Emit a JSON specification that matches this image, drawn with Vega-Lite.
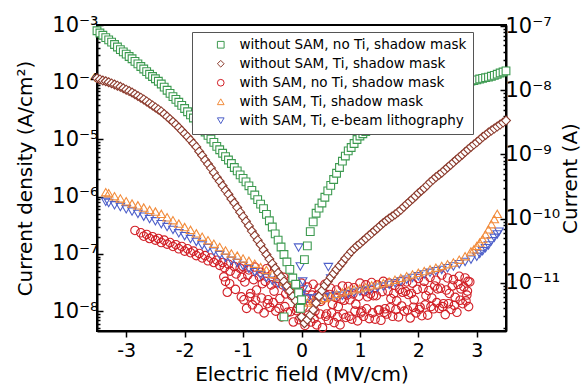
{
  "$schema": "https://vega.github.io/schema/vega-lite/v6.json",
  "width": 409,
  "height": 306,
  "autosize": "none",
  "padding": {"left": 97, "top": 25, "right": 78, "bottom": 59},
  "background": "white",
  "config": {
    "font": "DejaVu Sans",
    "view": {"stroke": "black", "strokeWidth": 2},
    "axis": {"domainColor": "black", "domainWidth": 2, "tickColor": "black", "tickWidth": 1.5, "labelColor": "black", "titleColor": "black", "titleFontWeight": "normal", "grid": false, "labelOverlap": false, "labelFlush": false, "labelBound": false},
    "legend": {"fillColor": "white", "strokeColor": "#555555", "strokeWidth": 1, "padding": 6, "symbolOffset": 16, "labelFontSize": 13.5, "labelLimit": 600, "labelColor": "black", "rowPadding": 4, "symbolSize": 45, "symbolStrokeWidth": 1, "labelOffset": 12, "cornerRadius": 0}
  },
  "layer": [
    {
      "layer": [
        {
          "data": {"values": [
            {"E":-2.85,"J":2.57e-7},{"E":-2.75,"J":2.34e-7},{"E":-2.7,"J":2.04e-7},{"E":-2.65,"J":2.19e-7},{"E":-2.6,"J":1.86e-7},
            {"E":-2.55,"J":2.00e-7},{"E":-2.5,"J":1.74e-7},{"E":-2.45,"J":1.86e-7},{"E":-2.4,"J":1.58e-7},{"E":-2.35,"J":1.74e-7},{"E":-2.3,"J":1.48e-7},
            {"E":-2.25,"J":1.58e-7},{"E":-2.2,"J":1.35e-7},{"E":-2.15,"J":1.45e-7},{"E":-2.1,"J":1.23e-7},{"E":-2.05,"J":1.35e-7},{"E":-2.0,"J":1.12e-7},
            {"E":-1.95,"J":1.23e-7},{"E":-1.9,"J":1.05e-7},{"E":-1.85,"J":1.12e-7},{"E":-1.8,"J":9.33e-8},{"E":-1.75,"J":1.02e-7},{"E":-1.7,"J":8.51e-8},
            {"E":-1.65,"J":9.33e-8},{"E":-1.6,"J":7.59e-8},{"E":-1.55,"J":8.51e-8},{"E":-1.5,"J":7.08e-8},{"E":-1.45,"J":7.76e-8},{"E":-1.4,"J":6.31e-8},
            {"E":-1.35,"J":7.08e-8},{"E":-1.32,"J":5.75e-8},{"E":-1.33,"J":3.98e-8},{"E":-1.25,"J":6.61e-8},{"E":-1.22,"J":5.01e-8},{"E":-1.23,"J":3.02e-8},
            {"E":-1.15,"J":6.03e-8},{"E":-1.12,"J":4.47e-8},{"E":-1.13,"J":2.40e-8},{"E":-1.05,"J":5.62e-8},{"E":-1.02,"J":3.89e-8},{"E":-1.03,"J":1.78e-8},
            {"E":-1.3,"J":3.31e-8},{"E":-1.27,"J":2.14e-8},
            {"E":-1.0,"J":6.03e-8},{"E":-0.97,"J":3.24e-8},{"E":-0.94,"J":1.12e-8},{"E":-0.92,"J":4.27e-8},{"E":-0.985,"J":1.58e-8},
            {"E":-0.9,"J":5.25e-8},{"E":-0.87,"J":2.04e-8},{"E":-0.84,"J":1.29e-8},{"E":-0.82,"J":3.55e-8},{"E":-0.885,"J":1.78e-8},
            {"E":-0.8,"J":5.89e-8},{"E":-0.77,"J":2.34e-8},{"E":-0.74,"J":1.10e-8},{"E":-0.72,"J":3.98e-8},{"E":-0.785,"J":1.55e-8},
            {"E":-0.7,"J":4.79e-8},{"E":-0.67,"J":3.02e-8},{"E":-0.64,"J":9.33e-9},{"E":-0.62,"J":3.31e-8},{"E":-0.685,"J":1.70e-8},
            {"E":-0.6,"J":5.50e-8},{"E":-0.57,"J":1.58e-8},{"E":-0.54,"J":1.17e-8},{"E":-0.52,"J":2.88e-8},{"E":-0.585,"J":1.35e-8},
            {"E":-0.5,"J":4.47e-8},{"E":-0.47,"J":2.24e-8},{"E":-0.44,"J":1.00e-8},{"E":-0.42,"J":3.16e-8},{"E":-0.485,"J":1.41e-8},
            {"E":-0.4,"J":3.72e-8},{"E":-0.37,"J":1.66e-8},{"E":-0.34,"J":7.94e-9},{"E":-0.32,"J":2.88e-8},{"E":-0.385,"J":1.12e-8},
            {"E":-0.3,"J":3.89e-8},{"E":-0.27,"J":2.00e-8},{"E":-0.24,"J":9.55e-9},{"E":-0.22,"J":2.34e-8},{"E":-0.285,"J":1.20e-8},
            {"E":-0.2,"J":3.39e-8},{"E":-0.17,"J":1.86e-8},{"E":-0.14,"J":6.46e-9},{"E":-0.12,"J":2.51e-8},{"E":-0.185,"J":9.77e-9},
            {"E":-0.1,"J":2.88e-8},{"E":-0.07,"J":1.12e-8},{"E":-0.04,"J":7.08e-9},{"E":-0.02,"J":2.04e-8},{"E":-0.085,"J":1.02e-8},
            {"E":0.0,"J":3.09e-8},{"E":0.03,"J":1.20e-8},{"E":0.06,"J":5.62e-9},{"E":0.08,"J":1.70e-8},{"E":0.015,"J":7.59e-9},
            {"E":0.1,"J":2.63e-8},{"E":0.13,"J":1.66e-8},{"E":0.16,"J":6.46e-9},{"E":0.18,"J":1.91e-8},{"E":0.115,"J":8.51e-9},
            {"E":0.2,"J":2.95e-8},{"E":0.23,"J":1.00e-8},{"E":0.26,"J":5.75e-9},{"E":0.28,"J":1.91e-8},{"E":0.215,"J":7.41e-9},
            {"E":0.3,"J":2.51e-8},{"E":0.33,"J":1.48e-8},{"E":0.36,"J":5.13e-9},{"E":0.38,"J":1.70e-8},{"E":0.315,"J":8.91e-9},
            {"E":0.4,"J":2.95e-8},{"E":0.43,"J":8.91e-9},{"E":0.46,"J":6.92e-9},{"E":0.48,"J":1.95e-8},{"E":0.415,"J":8.13e-9},
            {"E":0.5,"J":2.51e-8},{"E":0.53,"J":1.32e-8},{"E":0.56,"J":6.31e-9},{"E":0.58,"J":1.74e-8},{"E":0.515,"J":9.33e-9},
            {"E":0.6,"J":2.34e-8},{"E":0.63,"J":1.20e-8},{"E":0.66,"J":5.75e-9},{"E":0.68,"J":1.62e-8},{"E":0.615,"J":7.94e-9},
            {"E":0.7,"J":2.75e-8},{"E":0.73,"J":1.55e-8},{"E":0.76,"J":7.76e-9},{"E":0.78,"J":1.91e-8},{"E":0.715,"J":8.91e-9},
            {"E":0.8,"J":2.69e-8},{"E":0.83,"J":1.58e-8},{"E":0.86,"J":7.24e-9},{"E":0.88,"J":2.00e-8},{"E":0.815,"J":8.13e-9},
            {"E":0.9,"J":2.57e-8},{"E":0.93,"J":1.32e-8},{"E":0.96,"J":6.76e-9},{"E":0.98,"J":1.82e-8},{"E":0.915,"J":1.00e-8},
            {"E":1.0,"J":3.09e-8},{"E":1.03,"J":1.00e-8},{"E":1.06,"J":8.13e-9},{"E":1.08,"J":2.19e-8},{"E":1.015,"J":9.33e-9},
            {"E":1.1,"J":2.88e-8},{"E":1.13,"J":1.78e-8},{"E":1.16,"J":7.41e-9},{"E":1.18,"J":2.00e-8},{"E":1.115,"J":1.10e-8},
            {"E":1.2,"J":3.16e-8},{"E":1.23,"J":1.86e-8},{"E":1.26,"J":7.24e-9},{"E":1.28,"J":1.86e-8},{"E":1.215,"J":9.33e-9},
            {"E":1.3,"J":2.88e-8},{"E":1.33,"J":1.05e-8},{"E":1.36,"J":6.92e-9},{"E":1.38,"J":2.19e-8},{"E":1.315,"J":1.05e-8},
            {"E":1.4,"J":3.31e-8},{"E":1.43,"J":1.10e-8},{"E":1.46,"J":8.91e-9},{"E":1.48,"J":2.24e-8},{"E":1.415,"J":9.55e-9},
            {"E":1.5,"J":3.09e-8},{"E":1.53,"J":1.66e-8},{"E":1.56,"J":8.13e-9},{"E":1.58,"J":2.04e-8},{"E":1.515,"J":1.15e-8},
            {"E":1.6,"J":2.82e-8},{"E":1.63,"J":1.51e-8},{"E":1.66,"J":7.94e-9},{"E":1.68,"J":2.40e-8},{"E":1.615,"J":1.06e-8},
            {"E":1.7,"J":3.31e-8},{"E":1.73,"J":2.14e-8},{"E":1.76,"J":1.00e-8},{"E":1.78,"J":2.21e-8},{"E":1.715,"J":1.23e-8},
            {"E":1.8,"J":3.24e-8},{"E":1.83,"J":1.95e-8},{"E":1.86,"J":7.59e-9},{"E":1.88,"J":2.04e-8},{"E":1.815,"J":1.05e-8},
            {"E":1.9,"J":3.09e-8},{"E":1.93,"J":1.58e-8},{"E":1.96,"J":9.33e-9},{"E":1.98,"J":2.40e-8},{"E":1.915,"J":1.17e-8},
            {"E":2.0,"J":3.72e-8},{"E":2.03,"J":1.17e-8},{"E":2.06,"J":8.32e-9},{"E":2.08,"J":2.51e-8},{"E":2.015,"J":1.07e-8},
            {"E":2.1,"J":3.31e-8},{"E":2.13,"J":1.86e-8},{"E":2.16,"J":8.51e-9},{"E":2.18,"J":2.29e-8},{"E":2.115,"J":1.29e-8},
            {"E":2.2,"J":3.89e-8},{"E":2.23,"J":1.70e-8},{"E":2.26,"J":1.10e-8},{"E":2.28,"J":2.75e-8},{"E":2.215,"J":1.20e-8},
            {"E":2.3,"J":3.47e-8},{"E":2.33,"J":2.45e-8},{"E":2.36,"J":1.12e-8},{"E":2.38,"J":2.51e-8},{"E":2.315,"J":1.41e-8},
            {"E":2.4,"J":4.27e-8},{"E":2.43,"J":1.35e-8},{"E":2.46,"J":8.71e-9},{"E":2.48,"J":2.34e-8},{"E":2.415,"J":1.20e-8},
            {"E":2.5,"J":3.80e-8},{"E":2.53,"J":2.04e-8},{"E":2.56,"J":1.07e-8},{"E":2.58,"J":2.75e-8},{"E":2.515,"J":1.35e-8},
            {"E":2.6,"J":3.55e-8},{"E":2.63,"J":1.74e-8},{"E":2.66,"J":9.55e-9},{"E":2.68,"J":2.95e-8},{"E":2.615,"J":1.26e-8},
            {"E":2.7,"J":4.07e-8},{"E":2.73,"J":2.45e-8},{"E":2.76,"J":1.35e-8},{"E":2.78,"J":2.66e-8},{"E":2.715,"J":1.55e-8},
            {"E":2.8,"J":3.80e-8},{"E":2.83,"J":1.91e-8},{"E":2.86,"J":1.20e-8},{"E":2.88,"J":3.24e-8},{"E":2.815,"J":1.51e-8},
            {"E":2.85,"J":3.31e-8},{"E":2.84,"J":2.24e-8}
          ]},
          "mark": {"type": "point", "filled": false, "size": 72, "strokeWidth": 1.1, "opacity": 1},
          "encoding": {
            "x": {"field": "E", "type": "quantitative", "scale": {"domain": [-3.5, 3.5], "nice": false, "zero": false},
              "axis": {"title": "Electric field (MV/cm)", "values": [-3, -2.5, -2, -1.5, -1, -0.5, 0, 0.5, 1, 1.5, 2, 2.5, 3],
                "labelExpr": "datum.value % 1 == 0 ? '' + datum.value : ''",
                "tickSize": {"condition": {"test": "datum.value % 1 == 0", "value": 6}, "value": 3},
                "labelFontSize": 19, "titleFontSize": 20, "labelPadding": 4, "titlePadding": 4}},
            "y": {"field": "J", "type": "quantitative", "scale": {"type": "log", "domain": [4.5e-9, 1e-3], "nice": false},
              "axis": {"title": "Current density (A/cm²)",
                "values": [5e-9,6e-9,7e-9,8e-9,9e-9,1e-8,2e-8,3e-8,4e-8,5e-8,6e-8,7e-8,8e-8,9e-8,1e-7,2e-7,3e-7,4e-7,5e-7,6e-7,7e-7,8e-7,9e-7,1e-6,2e-6,3e-6,4e-6,5e-6,6e-6,7e-6,8e-6,9e-6,1e-5,2e-5,3e-5,4e-5,5e-5,6e-5,7e-5,8e-5,9e-5,1e-4,2e-4,3e-4,4e-4,5e-4,6e-4,7e-4,8e-4,9e-4,1e-3],
                "labelExpr": "abs(log(datum.value)/LN10 - round(log(datum.value)/LN10)) > 0.01 ? '' : ['10⁻³','10⁻⁴','10⁻⁵','10⁻⁶','10⁻⁷','10⁻⁸','10⁻⁹','10⁻¹⁰','10⁻¹¹'][-3 - round(log(datum.value)/LN10)]",
                "tickSize": {"condition": {"test": "abs(log(datum.value)/LN10 - round(log(datum.value)/LN10)) < 0.01", "value": -6}, "value": -3},
                "labelFontSize": 21, "titleFontSize": 20, "labelPadding": 5, "titlePadding": 16}},
            "color": {"datum": "with SAM, no Ti, shadow mask", "type": "nominal",
              "scale": {"domain": ["without SAM, no Ti, shadow mask", "without SAM, Ti, shadow mask", "with SAM, no Ti, shadow mask", "with SAM, Ti, shadow mask", "with SAM, Ti, e-beam lithography"], "range": ["#3d9a50", "#8b3a2c", "#d21f26", "#f28c3c", "#4d5fc9"]},
              "legend": {"title": null, "orient": "none", "legendX": 95, "legendY": 7}},
            "shape": {"datum": "with SAM, no Ti, shadow mask", "type": "nominal",
              "scale": {"domain": ["without SAM, no Ti, shadow mask", "without SAM, Ti, shadow mask", "with SAM, no Ti, shadow mask", "with SAM, Ti, shadow mask", "with SAM, Ti, e-beam lithography"], "range": ["square", "diamond", "circle", "triangle-up", "triangle-down"]},
              "legend": {"title": null, "orient": "none", "legendX": 95, "legendY": 7}}
          }
        },
        {
          "data": {"values": [
            {"E":-3.35,"J":8.13e-7},{"E":-3.3,"J":7.76e-7},{"E":-3.2,"J":7.08e-7},{"E":-3.1,"J":6.61e-7},{"E":-3.0,"J":6.03e-7},
            {"E":-2.9,"J":5.50e-7},{"E":-2.8,"J":5.01e-7},{"E":-2.7,"J":4.47e-7},{"E":-2.6,"J":4.07e-7},{"E":-2.5,"J":3.72e-7},
            {"E":-2.4,"J":3.31e-7},{"E":-2.3,"J":2.95e-7},{"E":-2.2,"J":2.63e-7},{"E":-2.1,"J":2.29e-7},{"E":-2.0,"J":2.04e-7},
            {"E":-1.9,"J":1.82e-7},{"E":-1.8,"J":1.62e-7},{"E":-1.7,"J":1.41e-7},{"E":-1.6,"J":1.26e-7},{"E":-1.5,"J":1.10e-7},
            {"E":-1.4,"J":9.55e-8},{"E":-1.3,"J":8.51e-8},{"E":-1.2,"J":7.59e-8},{"E":-1.1,"J":6.92e-8},{"E":-1.0,"J":6.17e-8},
            {"E":-0.9,"J":5.50e-8},{"E":-0.8,"J":4.79e-8},{"E":-0.7,"J":4.27e-8},{"E":-0.6,"J":3.80e-8},{"E":-0.5,"J":3.39e-8},
            {"E":-0.4,"J":3.02e-8},{"E":-0.3,"J":2.69e-8},{"E":-0.2,"J":2.40e-8},{"E":-0.1,"J":2.14e-8},{"E":0.0,"J":1.91e-8},
            {"E":0.1,"J":1.66e-8},{"E":0.2,"J":1.66e-8},{"E":0.3,"J":1.74e-8},{"E":0.4,"J":1.74e-8},{"E":0.5,"J":1.78e-8},
            {"E":0.6,"J":1.86e-8},{"E":0.7,"J":1.86e-8},{"E":0.8,"J":2.00e-8},{"E":0.9,"J":2.09e-8},{"E":1.0,"J":2.19e-8},
            {"E":1.1,"J":2.29e-8},{"E":1.2,"J":2.45e-8},{"E":1.3,"J":2.57e-8},{"E":1.4,"J":2.69e-8},{"E":1.5,"J":2.88e-8},
            {"E":1.6,"J":3.09e-8},{"E":1.7,"J":3.31e-8},{"E":1.8,"J":3.55e-8},{"E":1.9,"J":3.80e-8},{"E":2.0,"J":4.07e-8},
            {"E":2.1,"J":4.37e-8},{"E":2.2,"J":4.68e-8},{"E":2.3,"J":5.01e-8},{"E":2.4,"J":5.25e-8},{"E":2.5,"J":5.62e-8},
            {"E":2.6,"J":6.03e-8},{"E":2.7,"J":6.61e-8},{"E":2.8,"J":7.24e-8},{"E":2.9,"J":7.94e-8},{"E":3.0,"J":8.91e-8},
            {"E":3.05,"J":1.00e-7},{"E":3.1,"J":1.12e-7},{"E":3.15,"J":1.26e-7},{"E":3.2,"J":1.41e-7},{"E":3.25,"J":1.66e-7},
            {"E":3.3,"J":1.91e-7},{"E":3.35,"J":2.19e-7},{"E":3.38,"J":2.45e-7},
            {"E":-0.05,"J":1.29e-7},{"E":-0.02,"J":6.03e-8},{"E":0.02,"J":3.31e-8},{"E":0.03,"J":2.40e-8},{"E":0.46,"J":5.89e-8},{"E":0.5,"J":3.72e-8}
          ]},
          "mark": {"type": "point", "filled": false, "size": 72, "strokeWidth": 1.1, "opacity": 1},
          "encoding": {
            "x": {"field": "E", "type": "quantitative", "scale": {"domain": [-3.5, 3.5], "nice": false, "zero": false}},
            "y": {"field": "J", "type": "quantitative", "scale": {"type": "log", "domain": [4.5e-9, 1e-3], "nice": false}},
            "color": {"datum": "with SAM, Ti, e-beam lithography", "type": "nominal"},
            "shape": {"datum": "with SAM, Ti, e-beam lithography", "type": "nominal"}
          }
        },
        {
          "data": {"values": [
            {"E":-3.35,"J":1.20e-6},{"E":-3.3,"J":1.15e-6},{"E":-3.2,"J":1.02e-6},{"E":-3.1,"J":9.33e-7},{"E":-3.0,"J":8.32e-7},
            {"E":-2.9,"J":7.59e-7},{"E":-2.8,"J":7.08e-7},{"E":-2.7,"J":6.46e-7},{"E":-2.6,"J":5.89e-7},{"E":-2.5,"J":5.50e-7},
            {"E":-2.4,"J":5.01e-7},{"E":-2.3,"J":4.37e-7},{"E":-2.2,"J":3.89e-7},{"E":-2.1,"J":3.39e-7},{"E":-2.0,"J":2.95e-7},
            {"E":-1.9,"J":2.63e-7},{"E":-1.8,"J":2.29e-7},{"E":-1.7,"J":2.00e-7},{"E":-1.6,"J":1.74e-7},{"E":-1.5,"J":1.51e-7},
            {"E":-1.4,"J":1.32e-7},{"E":-1.3,"J":1.15e-7},{"E":-1.2,"J":1.02e-7},{"E":-1.1,"J":9.33e-8},{"E":-1.0,"J":8.32e-8},
            {"E":-0.9,"J":7.59e-8},{"E":-0.8,"J":6.76e-8},{"E":-0.7,"J":5.89e-8},{"E":-0.6,"J":5.25e-8},{"E":-0.5,"J":4.47e-8},
            {"E":-0.4,"J":3.89e-8},{"E":-0.3,"J":3.31e-8},{"E":-0.2,"J":2.75e-8},{"E":-0.1,"J":2.24e-8},{"E":0.0,"J":1.48e-8},
            {"E":0.1,"J":1.41e-8},{"E":0.2,"J":1.51e-8},{"E":0.3,"J":1.58e-8},{"E":0.4,"J":1.70e-8},{"E":0.5,"J":1.82e-8},
            {"E":0.6,"J":2.00e-8},{"E":0.7,"J":2.14e-8},{"E":0.8,"J":2.29e-8},{"E":0.9,"J":2.40e-8},{"E":1.0,"J":2.51e-8},
            {"E":1.1,"J":2.63e-8},{"E":1.2,"J":2.82e-8},{"E":1.3,"J":2.95e-8},{"E":1.4,"J":3.09e-8},{"E":1.5,"J":3.31e-8},
            {"E":1.6,"J":3.55e-8},{"E":1.7,"J":3.80e-8},{"E":1.8,"J":4.07e-8},{"E":1.9,"J":4.37e-8},{"E":2.0,"J":4.68e-8},
            {"E":2.1,"J":5.01e-8},{"E":2.2,"J":5.37e-8},{"E":2.3,"J":5.75e-8},{"E":2.4,"J":6.17e-8},{"E":2.5,"J":6.61e-8},
            {"E":2.6,"J":7.08e-8},{"E":2.7,"J":7.94e-8},{"E":2.8,"J":9.12e-8},{"E":2.9,"J":1.10e-7},{"E":2.95,"J":1.20e-7},
            {"E":3.0,"J":1.38e-7},{"E":3.05,"J":1.58e-7},{"E":3.1,"J":1.82e-7},{"E":3.15,"J":2.19e-7},{"E":3.2,"J":2.69e-7},
            {"E":3.25,"J":3.31e-7},{"E":3.3,"J":4.07e-7},{"E":3.35,"J":5.01e-7}
          ]},
          "mark": {"type": "point", "filled": false, "size": 72, "strokeWidth": 1.1, "opacity": 1},
          "encoding": {
            "x": {"field": "E", "type": "quantitative", "scale": {"domain": [-3.5, 3.5], "nice": false, "zero": false}},
            "y": {"field": "J", "type": "quantitative", "scale": {"type": "log", "domain": [4.5e-9, 1e-3], "nice": false}},
            "color": {"datum": "with SAM, Ti, shadow mask", "type": "nominal"},
            "shape": {"datum": "with SAM, Ti, shadow mask", "type": "nominal"}
          }
        },
        {
          "data": {"values": [
            {"E":-3.5,"J":1.17e-4},{"E":-3.45,"J":1.12e-4},{"E":-3.4,"J":1.07e-4},{"E":-3.35,"J":1.04e-4},{"E":-3.3,"J":1.00e-4},{"E":-3.25,"J":9.55e-5},
            {"E":-3.2,"J":9.12e-5},{"E":-3.15,"J":8.71e-5},{"E":-3.1,"J":8.32e-5},{"E":-3.05,"J":7.85e-5},{"E":-3.0,"J":7.41e-5},{"E":-2.95,"J":7.00e-5},
            {"E":-2.9,"J":6.61e-5},{"E":-2.85,"J":6.17e-5},{"E":-2.8,"J":5.75e-5},{"E":-2.75,"J":5.37e-5},{"E":-2.7,"J":5.01e-5},{"E":-2.65,"J":4.62e-5},
            {"E":-2.6,"J":4.27e-5},{"E":-2.55,"J":3.94e-5},{"E":-2.5,"J":3.63e-5},{"E":-2.45,"J":3.35e-5},{"E":-2.4,"J":3.09e-5},{"E":-2.35,"J":2.79e-5},
            {"E":-2.3,"J":2.51e-5},{"E":-2.25,"J":2.26e-5},{"E":-2.2,"J":2.04e-5},{"E":-2.15,"J":1.82e-5},{"E":-2.1,"J":1.62e-5},{"E":-2.05,"J":1.43e-5},
            {"E":-2.0,"J":1.26e-5},{"E":-1.95,"J":1.12e-5},{"E":-1.9,"J":9.77e-6},{"E":-1.85,"J":8.51e-6},{"E":-1.8,"J":7.41e-6},
            {"E":-1.75,"J":6.17e-6},{"E":-1.7,"J":5.25e-6},{"E":-1.65,"J":4.37e-6},{"E":-1.6,"J":3.72e-6},{"E":-1.55,"J":3.16e-6},
            {"E":-1.5,"J":2.63e-6},{"E":-1.45,"J":2.19e-6},{"E":-1.4,"J":1.86e-6},{"E":-1.35,"J":1.55e-6},{"E":-1.3,"J":1.29e-6},
            {"E":-1.25,"J":1.10e-6},{"E":-1.2,"J":9.12e-7},{"E":-1.15,"J":7.76e-7},{"E":-1.1,"J":6.46e-7},{"E":-1.05,"J":5.37e-7},
            {"E":-1.0,"J":4.47e-7},{"E":-0.95,"J":3.72e-7},{"E":-0.9,"J":3.09e-7},{"E":-0.85,"J":2.51e-7},{"E":-0.8,"J":2.09e-7},
            {"E":-0.75,"J":1.74e-7},{"E":-0.7,"J":1.45e-7},{"E":-0.65,"J":1.17e-7},{"E":-0.6,"J":9.77e-8},{"E":-0.55,"J":8.13e-8},
            {"E":-0.5,"J":6.76e-8},{"E":-0.45,"J":5.62e-8},{"E":-0.4,"J":4.68e-8},{"E":-0.35,"J":3.98e-8},{"E":-0.3,"J":3.31e-8},
            {"E":-0.25,"J":2.75e-8},{"E":-0.2,"J":2.24e-8},{"E":-0.15,"J":1.82e-8},{"E":-0.1,"J":1.51e-8},{"E":-0.05,"J":1.23e-8},
            {"E":0.0,"J":7.94e-9},{"E":0.05,"J":6.17e-9},{"E":0.1,"J":7.08e-9},{"E":0.15,"J":8.51e-9},{"E":0.2,"J":1.05e-8},
            {"E":0.25,"J":1.38e-8},{"E":0.3,"J":1.82e-8},{"E":0.35,"J":2.29e-8},{"E":0.4,"J":2.82e-8},{"E":0.45,"J":3.31e-8},
            {"E":0.5,"J":3.89e-8},{"E":0.55,"J":4.57e-8},{"E":0.6,"J":5.37e-8},{"E":0.65,"J":6.17e-8},{"E":0.7,"J":7.08e-8},
            {"E":0.75,"J":8.32e-8},{"E":0.8,"J":9.55e-8},{"E":0.85,"J":1.10e-7},{"E":0.9,"J":1.23e-7},{"E":0.95,"J":1.38e-7},
            {"E":1.0,"J":1.51e-7},{"E":1.05,"J":1.68e-7},{"E":1.1,"J":1.86e-7},{"E":1.15,"J":2.07e-7},{"E":1.2,"J":2.29e-7},{"E":1.25,"J":2.54e-7},
            {"E":1.3,"J":2.82e-7},{"E":1.35,"J":3.13e-7},{"E":1.4,"J":3.47e-7},{"E":1.45,"J":3.80e-7},{"E":1.5,"J":4.17e-7},{"E":1.55,"J":4.52e-7},
            {"E":1.6,"J":4.90e-7},{"E":1.65,"J":5.37e-7},{"E":1.7,"J":5.89e-7},{"E":1.75,"J":6.61e-7},{"E":1.8,"J":7.41e-7},{"E":1.85,"J":8.22e-7},
            {"E":1.9,"J":9.12e-7},{"E":1.95,"J":1.02e-6},{"E":2.0,"J":1.15e-6},{"E":2.05,"J":1.27e-6},{"E":2.1,"J":1.41e-6},{"E":2.15,"J":1.58e-6},
            {"E":2.2,"J":1.78e-6},{"E":2.25,"J":1.97e-6},{"E":2.3,"J":2.19e-6},{"E":2.35,"J":2.40e-6},{"E":2.4,"J":2.63e-6},{"E":2.45,"J":2.92e-6},
            {"E":2.5,"J":3.24e-6},{"E":2.55,"J":3.59e-6},{"E":2.6,"J":3.98e-6},{"E":2.65,"J":4.42e-6},{"E":2.7,"J":4.90e-6},{"E":2.75,"J":5.43e-6},
            {"E":2.8,"J":6.03e-6},{"E":2.85,"J":6.68e-6},{"E":2.9,"J":7.41e-6},{"E":2.95,"J":8.13e-6},{"E":3.0,"J":8.91e-6},{"E":3.05,"J":9.89e-6},
            {"E":3.1,"J":1.10e-5},{"E":3.15,"J":1.20e-5},{"E":3.2,"J":1.32e-5},{"E":3.25,"J":1.43e-5},{"E":3.3,"J":1.55e-5},{"E":3.35,"J":1.68e-5},
            {"E":3.4,"J":1.82e-5},{"E":3.45,"J":1.97e-5},{"E":3.5,"J":2.14e-5}
          ]},
          "mark": {"type": "point", "filled": false, "fill": "white", "fillOpacity": 1, "size": 80, "strokeWidth": 1.1, "opacity": 1},
          "encoding": {
            "x": {"field": "E", "type": "quantitative", "scale": {"domain": [-3.5, 3.5], "nice": false, "zero": false}},
            "y": {"field": "J", "type": "quantitative", "scale": {"type": "log", "domain": [4.5e-9, 1e-3], "nice": false}},
            "color": {"datum": "without SAM, Ti, shadow mask", "type": "nominal"},
            "shape": {"datum": "without SAM, Ti, shadow mask", "type": "nominal"}
          }
        },
        {
          "data": {"values": [
            {"E":-3.5,"J":7.94e-4},{"E":-3.45,"J":7.24e-4},{"E":-3.4,"J":6.61e-4},{"E":-3.35,"J":6.03e-4},{"E":-3.3,"J":5.50e-4},{"E":-3.25,"J":5.01e-4},
            {"E":-3.2,"J":4.57e-4},{"E":-3.15,"J":4.12e-4},{"E":-3.1,"J":3.72e-4},{"E":-3.05,"J":3.39e-4},{"E":-3.0,"J":3.09e-4},{"E":-2.95,"J":2.82e-4},
            {"E":-2.9,"J":2.57e-4},{"E":-2.85,"J":2.32e-4},{"E":-2.8,"J":2.09e-4},{"E":-2.75,"J":1.88e-4},{"E":-2.7,"J":1.70e-4},{"E":-2.65,"J":1.53e-4},
            {"E":-2.6,"J":1.38e-4},{"E":-2.55,"J":1.26e-4},{"E":-2.5,"J":1.15e-4},{"E":-2.45,"J":1.04e-4},{"E":-2.4,"J":9.33e-5},{"E":-2.35,"J":8.22e-5},
            {"E":-2.3,"J":7.24e-5},{"E":-2.25,"J":6.38e-5},{"E":-2.2,"J":5.62e-5},{"E":-2.15,"J":5.01e-5},{"E":-2.1,"J":4.47e-5},{"E":-2.05,"J":3.94e-5},
            {"E":-2.0,"J":3.47e-5},{"E":-1.95,"J":3.05e-5},{"E":-1.9,"J":2.69e-5},{"E":-1.85,"J":2.37e-5},{"E":-1.8,"J":2.09e-5},{"E":-1.75,"J":1.78e-5},{"E":-1.7,"J":1.55e-5},
            {"E":-1.65,"J":1.35e-5},{"E":-1.6,"J":1.18e-5},{"E":-1.55,"J":1.02e-5},{"E":-1.5,"J":8.91e-6},{"E":-1.45,"J":7.59e-6},
            {"E":-1.4,"J":6.61e-6},{"E":-1.35,"J":5.75e-6},{"E":-1.3,"J":5.01e-6},{"E":-1.25,"J":4.37e-6},{"E":-1.2,"J":3.80e-6},
            {"E":-1.15,"J":3.24e-6},{"E":-1.1,"J":2.82e-6},{"E":-1.05,"J":2.40e-6},{"E":-1.0,"J":2.09e-6},{"E":-0.95,"J":1.82e-6},
            {"E":-0.9,"J":1.55e-6},{"E":-0.85,"J":1.29e-6},{"E":-0.8,"J":1.07e-6},{"E":-0.75,"J":8.91e-7},{"E":-0.7,"J":7.41e-7},
            {"E":-0.65,"J":6.17e-7},{"E":-0.6,"J":4.90e-7},{"E":-0.55,"J":3.80e-7},{"E":-0.5,"J":2.95e-7},{"E":-0.45,"J":2.24e-7},
            {"E":-0.4,"J":1.74e-7},{"E":-0.35,"J":1.32e-7},{"E":-0.3,"J":9.77e-8},{"E":-0.25,"J":7.24e-8},{"E":-0.2,"J":5.37e-8},
            {"E":-0.15,"J":3.80e-8},{"E":-0.1,"J":2.95e-8},{"E":-0.05,"J":2.09e-8},{"E":0.0,"J":1.58e-8},
            {"E":-0.3,"J":7.94e-9},{"E":-0.02,"J":1.12e-8},
            {"E":0.05,"J":7.94e-8},{"E":0.1,"J":1.38e-7},{"E":0.15,"J":2.45e-7},{"E":0.2,"J":3.63e-7},{"E":0.25,"J":5.13e-7},
            {"E":0.3,"J":6.31e-7},{"E":0.35,"J":7.76e-7},{"E":0.4,"J":9.77e-7},{"E":0.45,"J":1.26e-6},{"E":0.5,"J":1.58e-6},
            {"E":0.55,"J":2.00e-6},{"E":0.6,"J":2.57e-6},{"E":0.65,"J":3.24e-6},{"E":0.7,"J":4.17e-6},{"E":0.75,"J":5.13e-6},
            {"E":0.8,"J":6.31e-6},{"E":0.85,"J":7.24e-6},{"E":0.9,"J":8.51e-6},{"E":0.95,"J":1.00e-5},{"E":1.0,"J":1.15e-5},
            {"E":1.05,"J":1.26e-5},{"E":1.1,"J":1.38e-5},{"E":1.15,"J":1.53e-5},{"E":1.2,"J":1.70e-5},{"E":1.25,"J":1.86e-5},{"E":1.3,"J":2.04e-5},
            {"E":1.35,"J":2.21e-5},{"E":1.4,"J":2.40e-5},{"E":1.45,"J":2.63e-5},{"E":1.5,"J":2.88e-5},{"E":1.55,"J":3.05e-5},{"E":1.6,"J":3.24e-5},
            {"E":1.65,"J":3.43e-5},{"E":1.7,"J":3.63e-5},{"E":1.75,"J":3.85e-5},{"E":1.8,"J":4.07e-5},{"E":1.85,"J":4.32e-5},{"E":1.9,"J":4.57e-5},
            {"E":1.95,"J":4.79e-5},{"E":2.0,"J":5.01e-5},{"E":2.05,"J":5.31e-5},{"E":2.1,"J":5.62e-5},{"E":2.15,"J":5.89e-5},{"E":2.2,"J":6.17e-5},
            {"E":2.25,"J":6.38e-5},{"E":2.3,"J":6.61e-5},{"E":2.35,"J":6.92e-5},{"E":2.4,"J":7.24e-5},{"E":2.45,"J":7.50e-5},{"E":2.5,"J":7.76e-5},
            {"E":2.55,"J":8.04e-5},{"E":2.6,"J":8.32e-5},{"E":2.65,"J":8.71e-5},{"E":2.7,"J":9.12e-5},{"E":2.75,"J":9.44e-5},{"E":2.8,"J":9.77e-5},
            {"E":2.85,"J":1.01e-4},{"E":2.9,"J":1.05e-4},{"E":2.95,"J":1.07e-4},{"E":3.0,"J":1.10e-4},{"E":3.05,"J":1.14e-4},{"E":3.1,"J":1.17e-4},
            {"E":3.15,"J":1.20e-4},{"E":3.2,"J":1.23e-4},{"E":3.25,"J":1.27e-4},{"E":3.3,"J":1.32e-4},{"E":3.35,"J":1.38e-4},{"E":3.4,"J":1.45e-4},
            {"E":3.45,"J":1.51e-4},{"E":3.5,"J":1.58e-4}
          ]},
          "mark": {"type": "point", "filled": false, "fill": "white", "fillOpacity": 1, "size": 60, "strokeWidth": 1.1, "opacity": 1},
          "encoding": {
            "x": {"field": "E", "type": "quantitative", "scale": {"domain": [-3.5, 3.5], "nice": false, "zero": false}},
            "y": {"field": "J", "type": "quantitative", "scale": {"type": "log", "domain": [4.5e-9, 1e-3], "nice": false}},
            "color": {"datum": "without SAM, no Ti, shadow mask", "type": "nominal"},
            "shape": {"datum": "without SAM, no Ti, shadow mask", "type": "nominal"}
          }
        }
      ]
    },
    {
      "data": {"values": [{"I": 1e-9}]},
      "mark": {"type": "point", "opacity": 0},
      "encoding": {
        "y": {"field": "I", "type": "quantitative", "scale": {"type": "log", "domain": [1.78e-12, 1.04e-7], "nice": false},
          "axis": {"orient": "right", "title": "Current (A)", "titleAngle": 270,
            "values": [2e-12,3e-12,4e-12,5e-12,6e-12,7e-12,8e-12,9e-12,1e-11,2e-11,3e-11,4e-11,5e-11,6e-11,7e-11,8e-11,9e-11,1e-10,2e-10,3e-10,4e-10,5e-10,6e-10,7e-10,8e-10,9e-10,1e-9,2e-9,3e-9,4e-9,5e-9,6e-9,7e-9,8e-9,9e-9,1e-8,2e-8,3e-8,4e-8,5e-8,6e-8,7e-8,8e-8,9e-8,1e-7],
            "labelExpr": "abs(log(datum.value)/LN10 - round(log(datum.value)/LN10)) > 0.01 ? '' : ['10⁻³','10⁻⁴','10⁻⁵','10⁻⁶','10⁻⁷','10⁻⁸','10⁻⁹','10⁻¹⁰','10⁻¹¹'][-3 - round(log(datum.value)/LN10)]",
            "tickSize": {"condition": {"test": "abs(log(datum.value)/LN10 - round(log(datum.value)/LN10)) < 0.01", "value": -6}, "value": -3},
            "labelFontSize": 21, "titleFontSize": 20, "labelPadding": 5, "titlePadding": 21}}
      }
    }
  ],
  "resolve": {"scale": {"y": "independent"}}
}
